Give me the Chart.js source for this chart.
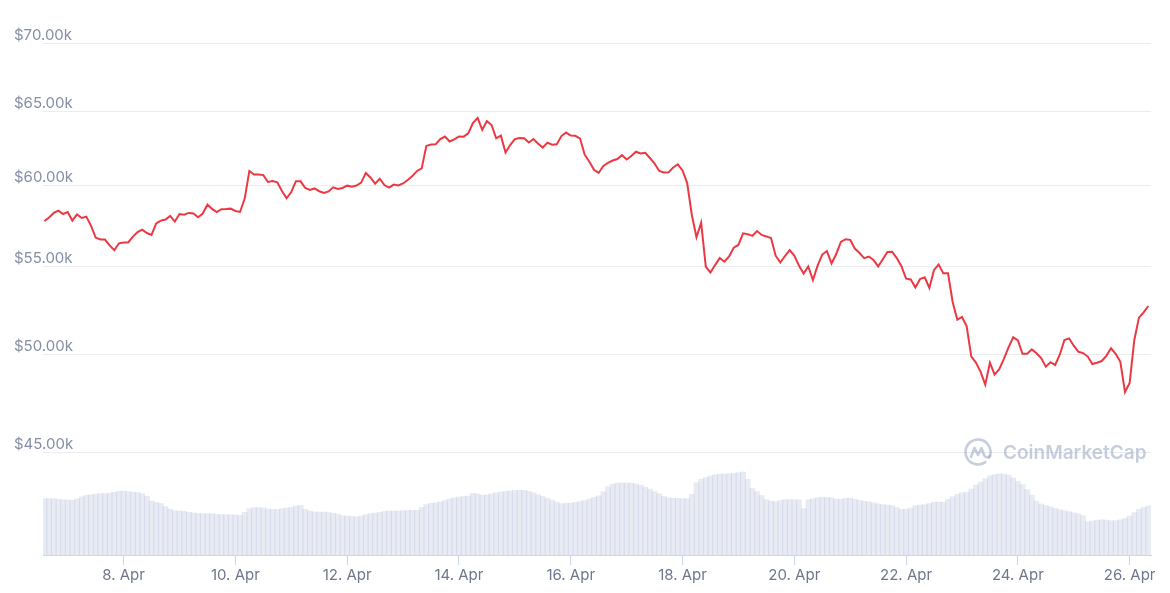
<!DOCTYPE html>
<html>
<head>
<meta charset="utf-8">
<title>BTC price chart</title>
<script src="https://cdn.jsdelivr.net/npm/chart.js@4.4.0/dist/chart.umd.min.js"></script>
<style>
    html, body { margin: 0; padding: 0; background: #fff; }
    #chart { display: block; }
</style>
</head>
<body>
<canvas id="chart" width="1170" height="593"></canvas>
<script>
// samples every 2 hours, first one on 6 Apr 14:00 (x axis = day of April)
const startDay = 6 + 14 / 24;
const stepHours = 2;

const prices = [
    57760, 57980, 58270, 58410, 58200, 58330, 57790, 58170, 57950, 58040,
    57480, 56740, 56620, 56620, 56260, 55970, 56390, 56440, 56440, 56800,
    57080, 57230, 57020, 56900, 57610, 57790, 57860, 58080, 57730, 58200,
    58160, 58270, 58230, 58000, 58230, 58790, 58520, 58320, 58500, 58510,
    58540, 58390, 58330, 59180, 60970, 60740, 60740, 60700, 60250, 60310,
    60230, 59670, 59200, 59600, 60300, 60290, 59860, 59730, 59830, 59650,
    59540, 59640, 59900, 59790, 59860, 60010, 59940, 60020, 60210, 60840,
    60540, 60140, 60460, 60050, 59880, 60080, 60020, 60150, 60380, 60630,
    60970, 61140, 62640, 62740, 62750, 63110, 63280, 62940, 63080, 63280,
    63270, 63490, 64210, 64560, 63730, 64350, 64070, 63160, 63340, 62200,
    62700, 63100, 63180, 63160, 62870, 63110, 62790, 62530, 62860, 62720,
    62750, 63310, 63550, 63340, 63330, 63140, 62050, 61580, 61050, 60840,
    61300, 61500, 61660, 61760, 62020, 61730, 61960, 62250, 62130, 62180,
    61830, 61460, 60970, 60870, 60880, 61200, 61410, 61000, 60180, 58140,
    56760, 57660, 54980, 54640, 55080, 55500, 55280, 55590, 56120, 56290,
    57000, 56950, 56840, 57140, 56900, 56810, 56710, 55640, 55230, 55620,
    55980, 55650, 55050, 54580, 55000, 54200, 55050, 55710, 55920, 55170,
    55740, 56480, 56640, 56600, 56070, 55800, 55490, 55590, 55390, 55000,
    55430, 55860, 55880, 55500, 55010, 54280, 54230, 53760, 54260, 54360,
    53740, 54790, 55110, 54590, 54590, 52930, 51920, 52080, 51570, 49900,
    49580, 49080, 48410, 49570, 48940, 49230, 49780, 50400, 50950, 50780,
    50050, 50050, 50290, 50080, 49820, 49360, 49600, 49450, 50000, 50800,
    50890, 50490, 50160, 50090, 49900, 49500, 49570, 49660, 49940, 50350,
    50050, 49620, 48030, 48500, 50800, 52040, 52340, 52700
];

// 24h volume, billions USD
const volumes = [
    51.0, 51.0, 51.0, 50.5, 50.0, 49.9, 49.5, 50.9, 52.7, 54.0,
    54.5, 55.1, 55.5, 55.5, 55.9, 56.8, 57.6, 57.8, 57.4, 57.0,
    56.6, 55.4, 53.2, 49.0, 47.7, 46.6, 44.0, 41.6, 40.1, 39.9,
    39.6, 38.7, 38.2, 37.7, 37.5, 37.5, 37.4, 36.9, 36.6, 36.6,
    36.5, 36.3, 36.0, 38.7, 41.9, 42.9, 42.9, 42.6, 41.8, 41.4,
    41.3, 42.0, 42.6, 43.2, 44.3, 44.9, 41.4, 39.9, 39.1, 39.0,
    39.0, 38.6, 38.0, 37.1, 35.7, 35.3, 35.0, 34.6, 35.5, 36.7,
    37.4, 38.0, 38.7, 39.5, 39.9, 39.9, 40.0, 40.2, 40.5, 40.5,
    40.5, 43.0, 45.6, 46.8, 47.3, 48.1, 49.4, 50.8, 51.8, 52.6,
    53.0, 53.4, 55.8, 55.3, 54.1, 54.5, 55.3, 56.3, 57.0, 57.6,
    58.0, 58.3, 58.5, 58.5, 57.6, 56.3, 54.6, 53.0, 51.3, 49.7,
    48.0, 46.5, 46.8, 47.0, 47.6, 48.4, 49.3, 50.7, 52.0, 53.6,
    57.2, 61.7, 64.0, 65.1, 65.1, 65.1, 65.0, 64.3, 63.0, 61.3,
    59.5, 57.4, 55.4, 53.2, 51.8, 51.5, 51.2, 51.0, 51.0, 54.9,
    65.4, 68.4, 70.0, 71.4, 72.5, 73.1, 73.3, 73.4, 73.8, 74.4,
    75.0, 68.5, 60.2, 57.2, 53.8, 50.1, 48.8, 48.3, 49.3, 50.1,
    50.1, 50.1, 50.0, 42.0, 50.0, 50.9, 51.9, 52.4, 52.1, 51.8,
    50.6, 50.5, 51.4, 51.6, 50.5, 49.5, 48.8, 48.2, 47.3, 46.4,
    45.7, 45.3, 44.8, 43.0, 41.4, 41.6, 42.6, 44.6, 45.3, 45.7,
    46.5, 47.9, 47.9, 47.9, 50.4, 52.7, 55.0, 56.3, 56.8, 59.8,
    63.3, 65.9, 69.0, 71.6, 72.8, 73.3, 73.2, 72.2, 69.6, 66.7,
    63.7, 59.2, 54.3, 48.9, 46.2, 44.9, 43.7, 42.3, 41.0, 40.1,
    39.2, 38.3, 37.4, 35.6, 30.2, 31.0, 31.7, 32.1, 31.7, 31.1,
    31.2, 32.0, 33.3, 35.5, 38.5, 41.4, 43.1, 44.6
];

const priceTicks = [45000, 50000, 55000, 60000, 65000, 70000];
const dayTicks = [8, 10, 12, 14, 16, 18, 20, 22, 24, 26];

const times = prices.map((p, i) => startDay + i * stepHours / 24);

// faint CoinMarketCap mark behind the series
const watermark = {
    id: 'watermark',
    beforeDatasetsDraw(chart) {
        const c = chart.ctx;
        const area = chart.chartArea;
        const cx = area.right - 173;
        const cy = area.bottom - 103;
        c.save();
        c.strokeStyle = 'rgba(160,172,199,0.6)';
        c.fillStyle = 'rgba(160,172,199,0.6)';
        c.lineWidth = 2.6;
        c.lineJoin = 'round';
        c.lineCap = 'round';
        c.beginPath();
        c.arc(cx, cy, 12.5, 0.3 * Math.PI, 2.15 * Math.PI);
        c.stroke();
        c.beginPath();
        c.moveTo(cx - 7, cy + 5);
        c.lineTo(cx - 3.5, cy - 4);
        c.lineTo(cx, cy + 3);
        c.lineTo(cx + 3.5, cy - 4);
        c.lineTo(cx + 6, cy + 3);
        c.quadraticCurveTo(cx + 8, cy + 7, cx + 12, cy + 4);
        c.stroke();
        c.font = '600 19px Inter';
        c.textBaseline = 'middle';
        c.fillText('CoinMarketCap', cx + 25, cy + 1);
        c.restore();
    }
};

const ctx = document.getElementById('chart').getContext('2d');
new Chart(ctx, {
    type: 'line',
    data: {
        datasets: [
            {
                type: 'line',
                label: 'Price',
                data: times.map((t, i) => ({ x: t, y: prices[i] })),
                yAxisID: 'y',
                borderColor: '#ea3943',
                borderWidth: 2,
                pointRadius: 0,
                tension: 0,
                order: 1
            },
            {
                type: 'bar',
                label: 'Volume',
                data: times.map((t, i) => ({ x: t, y: volumes[i] })),
                yAxisID: 'vol',
                backgroundColor: 'rgba(150,165,200,0.22)',
                borderWidth: 0,
                barPercentage: 1.25,
                categoryPercentage: 1,
                order: 2
            }
        ]
    },
    options: {
        responsive: false,
        animation: false,
        layout: { padding: { left: 43, right: 19, top: 0, bottom: 0 } },
        plugins: {
            legend: { display: false },
            tooltip: { enabled: false }
        },
        scales: {
            x: {
                type: 'linear',
                bounds: 'data',
                min: 6.558,
                max: 26.382,
                offset: false,
                afterBuildTicks: scale => { scale.ticks = dayTicks.map(v => ({ value: v })); },
                afterFit: scale => { scale.height = 38; },
                grid: { drawOnChartArea: false, drawTicks: true, tickLength: 10, tickColor: '#ccd6eb', offset: false },
                border: { display: true, color: '#ccd6eb' },
                ticks: {
                    autoSkip: false,
                    maxRotation: 0,
                    padding: 1,
                    color: '#6f778c',
                    font: { family: 'Inter', size: 15 },
                    callback: v => v + '. Apr'
                }
            },
            y: {
                type: 'logarithmic',
                position: 'left',
                bounds: 'data',
                min: 40279,
                max: 73326,
                afterBuildTicks: scale => { scale.ticks = priceTicks.map(v => ({ value: v })); },
                afterFit: scale => { scale.width = 0; },
                grid: { color: '#ececef', drawTicks: false },
                border: { display: false },
                ticks: {
                    mirror: true,
                    padding: -29,
                    labelOffset: -8,
                    color: '#858ea5',
                    font: { family: 'Inter', size: 15 },
                    callback: v => '$' + (v / 1000).toFixed(2) + 'k'
                }
            },
            vol: {
                type: 'linear',
                display: false,
                min: 0,
                max: 499.5
            }
        }
    },
    plugins: [watermark]
});
</script>
</body>
</html>
